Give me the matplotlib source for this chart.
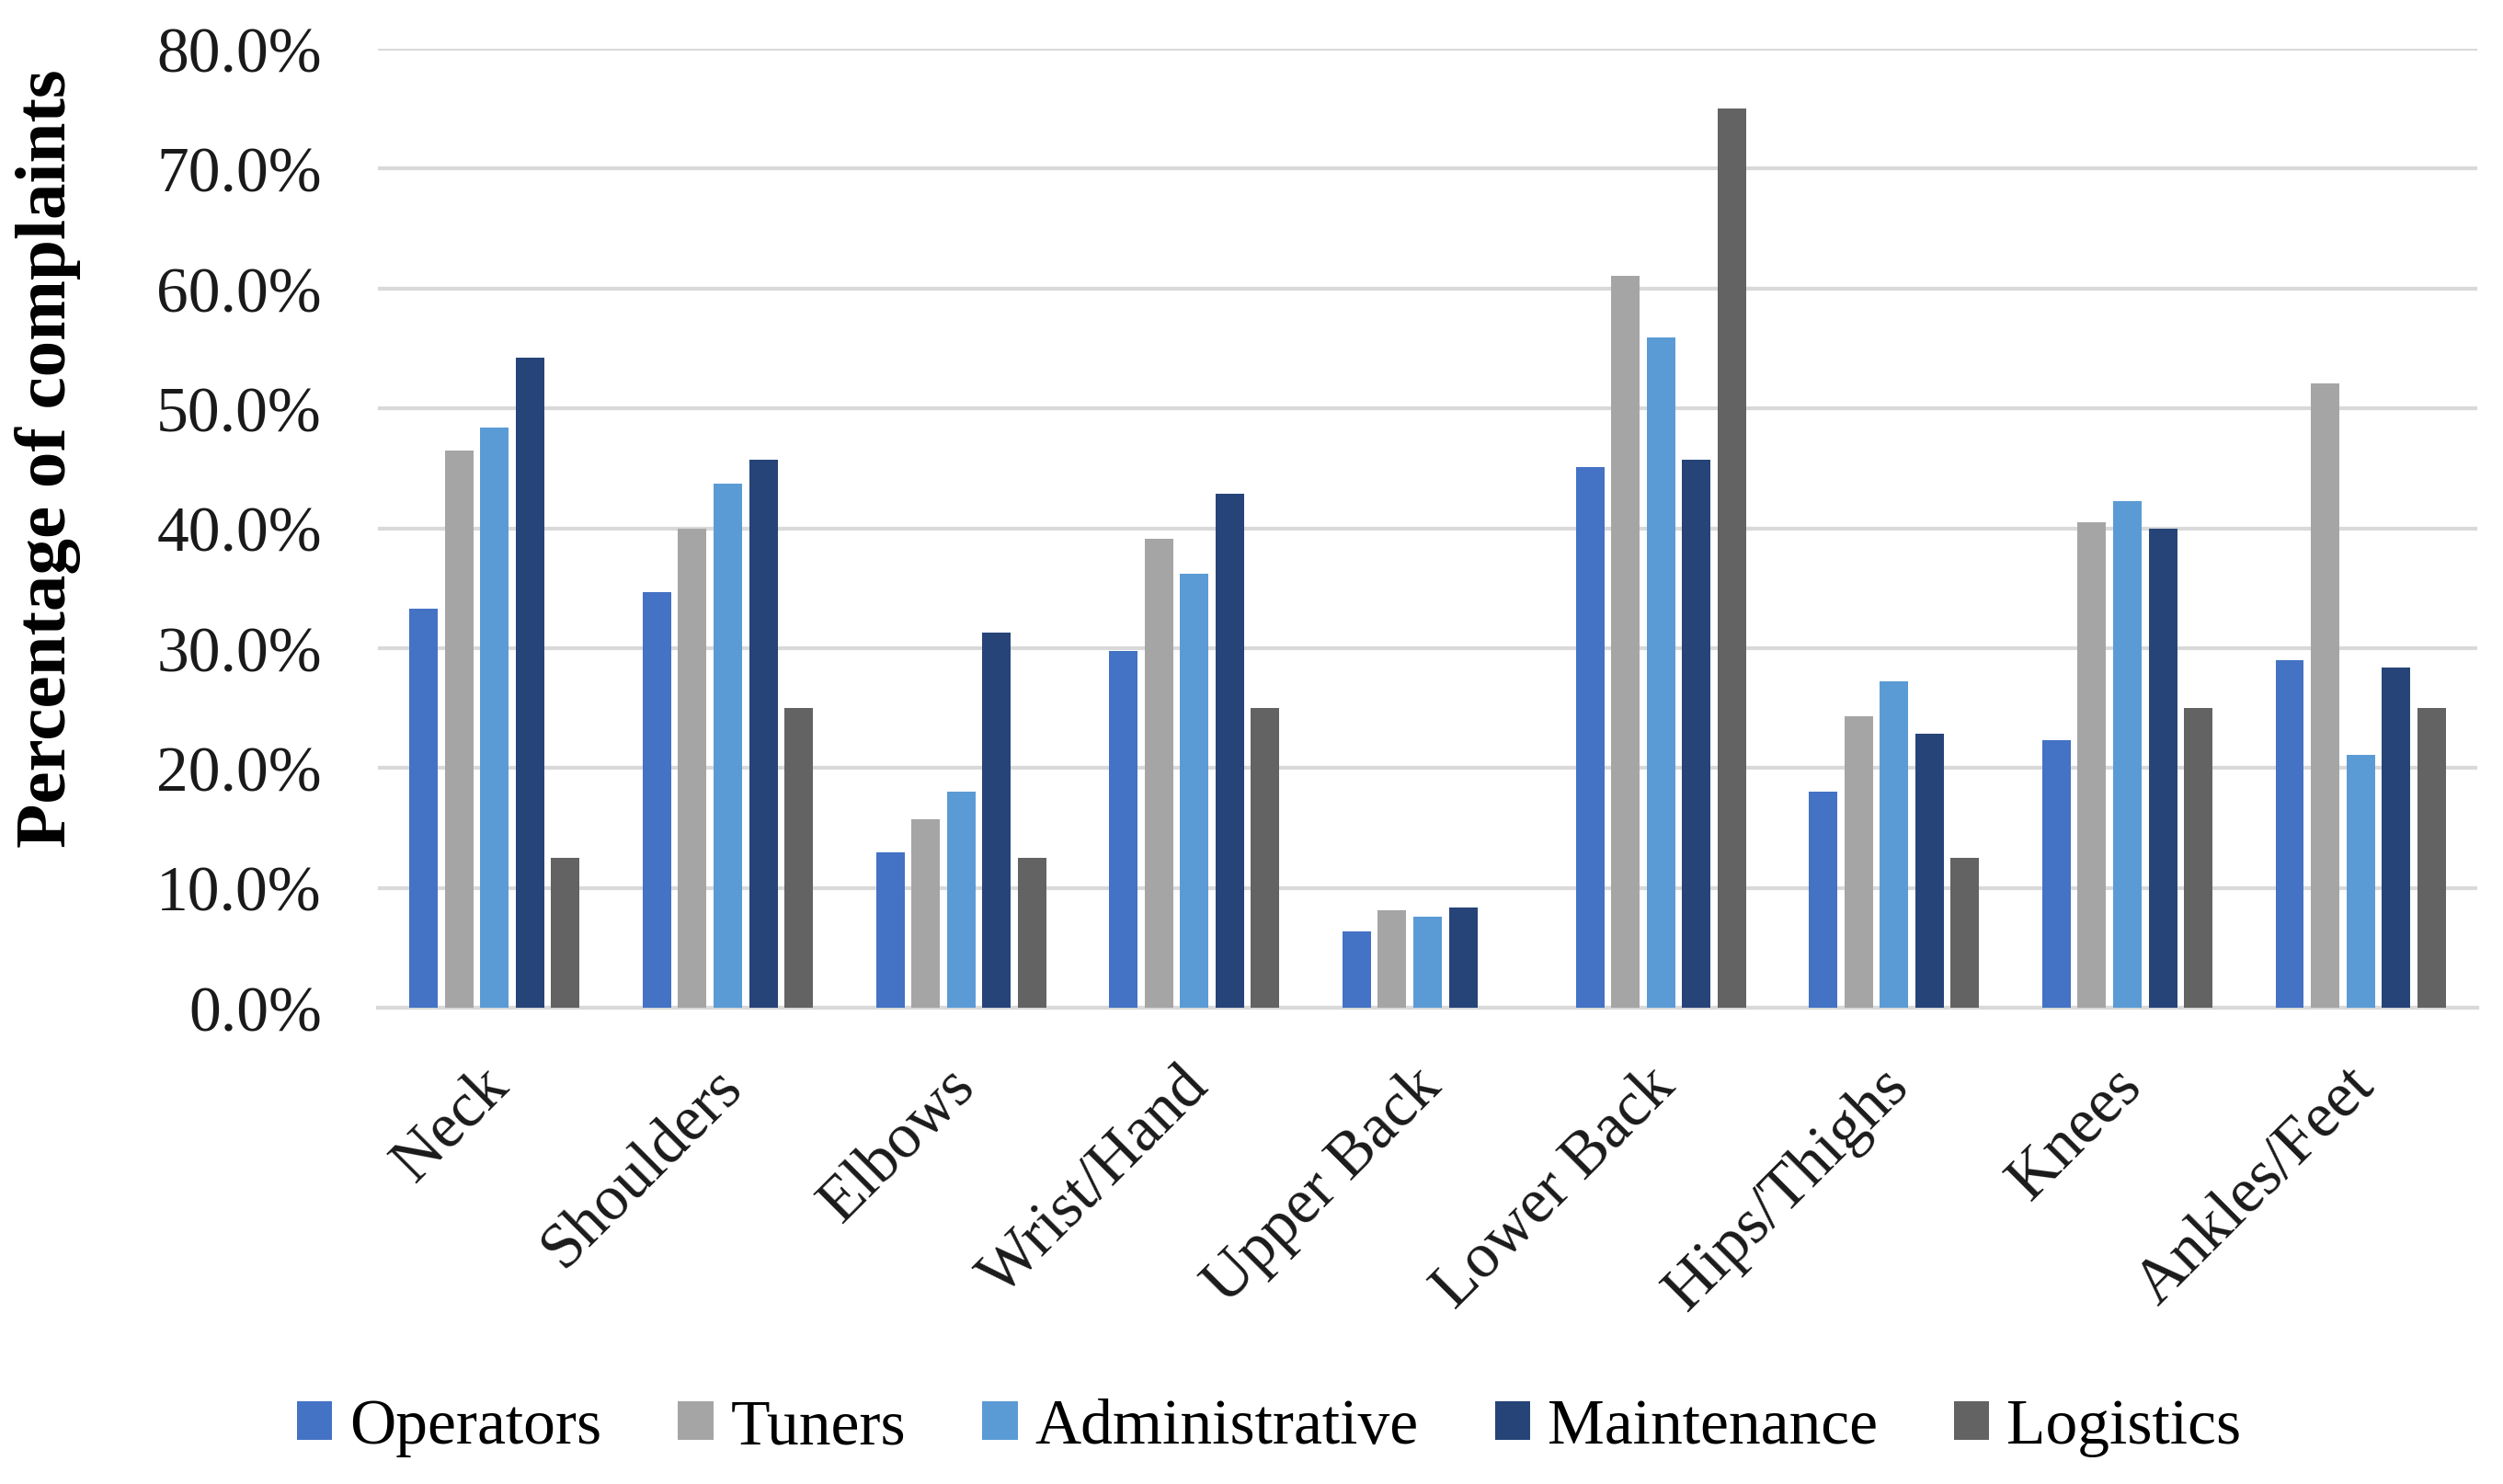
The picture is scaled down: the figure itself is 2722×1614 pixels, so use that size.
import numpy as np
import matplotlib
matplotlib.use("Agg")
import matplotlib.pyplot as plt
import matplotlib.transforms as mtrans
from matplotlib.ticker import PercentFormatter

# body regions on the x axis
regions = ["Neck", "Shoulders", "Elbows", "Wrist/Hand", "Upper Back",
           "Lower Back", "Hips/Thighs", "Knees", "Ankles/Feet"]

# percentage of complaints per group
operators      = [33.3, 34.7, 13.0, 29.8, 6.4, 45.1, 18.0, 22.3, 29.0]
tuners         = [46.5, 40.0, 15.7, 39.1, 8.1, 61.1, 24.3, 40.5, 52.1]
administrative = [48.4, 43.7, 18.0, 36.2, 7.6, 55.9, 27.2, 42.3, 21.1]
maintenance    = [54.2, 45.7, 31.3, 42.9, 8.4, 45.7, 22.9, 40.0, 28.4]
logistics      = [12.5, 25.0, 12.5, 25.0, 0.0, 75.0, 12.5, 25.0, 25.0]

series_names = ["Operators", "Tuners", "Administrative", "Maintenance", "Logistics"]
colors = ["#4472C4", "#A5A5A5", "#5B9BD5", "#264478", "#636363"]

plt.rcParams['font.family'] = ['Liberation Serif', 'DejaVu Serif']

fig = plt.figure(figsize=(27.22, 16.15), dpi=100)
ax = fig.add_axes([0.151, 0.3207, 0.8387, 0.6458])

x = np.arange(len(regions))
slot = 0.152
all_series = [operators, tuners, administrative, maintenance, logistics]
for i, (vals, name, c) in enumerate(zip(all_series, series_names, colors)):
    ax.bar(x + (i - 2) * slot, np.array(vals) / 100, width=0.122, color=c,
           label=name, zorder=3)

ax.set_xlim(-0.5, len(regions) - 0.5)
ax.set_ylim(0, 0.8)
ax.set_yticks(np.arange(0, 0.81, 0.1))
ax.yaxis.set_major_formatter(PercentFormatter(1.0, decimals=1))
ax.grid(axis='y', color='#D9D9D9', linewidth=3, zorder=0)
for s in ['top', 'right', 'left']:
    ax.spines[s].set_visible(False)
ax.spines['bottom'].set_color('#D9D9D9')
ax.spines['bottom'].set_linewidth(3)

ax.tick_params(axis='y', length=0, pad=44, labelsize=50, labelcolor='#1a1a1a')
ax.tick_params(axis='x', length=0, pad=38, labelsize=50, labelcolor='#1a1a1a')
ax.set_xticks(x)
ax.set_xticklabels(regions, rotation=45, ha='right', va='top', rotation_mode='anchor')
# nudge category labels a little to the left, like the original
shift = mtrans.ScaledTranslation(-0.17, 0, fig.dpi_scale_trans)
for lbl in ax.get_xticklabels():
    lbl.set_transform(lbl.get_transform() + shift)

fig.text(0.019, 0.691, "Percentage of complaints", rotation=90, ha='center',
         va='center', fontsize=57, fontweight='bold')

fig.legend(loc='center', bbox_to_anchor=(0.507, 0.038), ncol=5, frameon=False,
           fontsize=50, handlelength=0.55, handleheight=0.55,
           handletextpad=0.27, columnspacing=1.2)

fig.savefig("out.png", dpi=100, facecolor='white')
